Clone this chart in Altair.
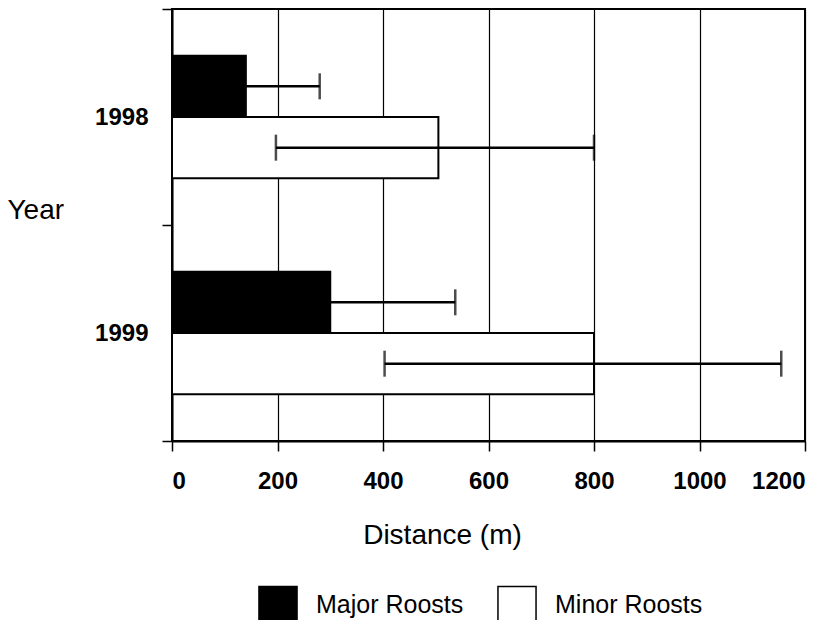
import altair as alt
import pandas as pd

years = ["1998", "1999"]
series = ["Major Roosts", "Minor Roosts"]
major_mean = [140, 300]
major_err_hi = [280, 537]
minor_mean = [505, 800]
minor_err_lo = [197, 403]
minor_err_hi = [800, 1155]
x_ticks = [0, 200, 400, 600, 800, 1000, 1200]

rows = []
caps = []
for i, yr in enumerate(years):
    rows.append(dict(Year=yr, Series=series[0], Mean=major_mean[i], Lo=major_mean[i], Hi=major_err_hi[i]))
    rows.append(dict(Year=yr, Series=series[1], Mean=minor_mean[i], Lo=minor_err_lo[i], Hi=minor_err_hi[i]))
    caps.append(dict(Year=yr, Series=series[0], X=major_err_hi[i]))
    caps.append(dict(Year=yr, Series=series[1], X=minor_err_lo[i]))
    caps.append(dict(Year=yr, Series=series[1], X=minor_err_hi[i]))
df = pd.DataFrame(rows)
cap_df = pd.DataFrame(caps)

FONT = "Liberation Sans"

y_enc = alt.Y(
    "Year:N",
    sort=years,
    scale=alt.Scale(paddingInner=0, paddingOuter=0),
    axis=alt.Axis(
        title="Year", titleAngle=0, titleAlign="left", titleBaseline="middle",
        titleX=-165, titleY=201, titleFont=FONT, titleFontSize=28, titleFontWeight="normal",
        titleColor="black",
        labelFont=FONT, labelFontSize=24, labelFontWeight="bold", labelColor="black",
        labelPadding=14, tickBand="extent", tickSize=10, tickColor="black", tickWidth=1.5,
        domainColor="black", domainWidth=2, grid=False,
    ),
)
yoff = alt.YOffset("Series:N", sort=series, scale=alt.Scale(paddingOuter=0.76, paddingInner=0))

x_scale = alt.Scale(domain=[0, 1200], nice=False)
x_axis = alt.Axis(
    values=x_ticks, format="d", title="Distance (m)", titleFont=FONT, titleFontSize=28,
    titleFontWeight="normal", titleColor="black", titleX=270, titleY=102,
    titleAlign="center", titleBaseline="alphabetic",
    labelFont=FONT, labelFontSize=24, labelFontWeight="bold", labelColor="black",
    labelPadding=18, tickSize=10, tickColor="black", tickWidth=1.5,
    domainColor="black", domainWidth=2,
    grid=True, gridColor="black", gridWidth=1.2, gridOpacity=1,
)

bars = alt.Chart(df).mark_bar(stroke="black", strokeWidth=2).encode(
    x=alt.X("Mean:Q", scale=x_scale, axis=x_axis),
    y=y_enc,
    yOffset=yoff,
    color=alt.Color(
        "Series:N",
        scale=alt.Scale(domain=series, range=["black", "white"]),
        legend=alt.Legend(
            title=None, orient="none", legendX=86, legendY=576, direction="horizontal",
            symbolType="square", symbolSize=1450, symbolStrokeColor="black",
            symbolStrokeWidth=1.5, labelFont=FONT, labelFontSize=25, labelColor="black",
            labelOffset=18, columnPadding=30, labelLimit=300,
        ),
    ),
)

err = alt.Chart(df).mark_rule(color="black", strokeWidth=2.5).encode(
    x="Lo:Q", x2="Hi:Q", y=alt.Y("Year:N", sort=years), yOffset=alt.YOffset("Series:N", sort=series)
)

cap = alt.Chart(cap_df).mark_tick(orient="vertical", size=26, thickness=2.5, color="black").encode(
    x="X:Q", y=alt.Y("Year:N", sort=years), yOffset=alt.YOffset("Series:N", sort=series)
)

chart = (bars + err + cap).properties(
    width=633, height=432,
    autosize=alt.AutoSizeParams(type="none"),
    padding={"left": 164, "top": 1, "right": 20, "bottom": 179},
    background="white",
).configure_view(stroke="black", strokeWidth=2)

chart.save("out.html", embed_options={"renderer": "svg", "actions": False})
